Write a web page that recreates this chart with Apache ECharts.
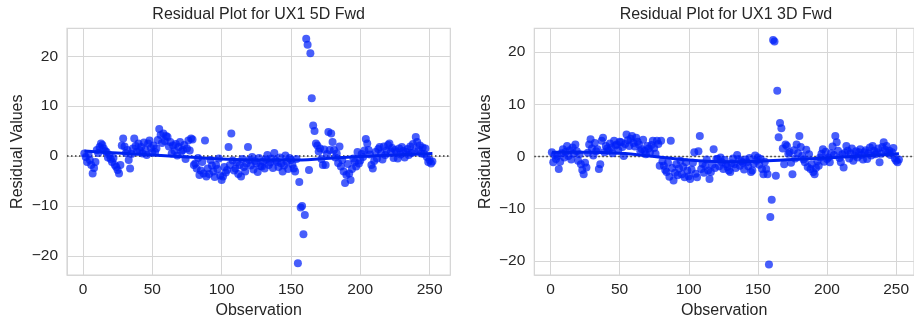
<!DOCTYPE html>
<html><head><meta charset="utf-8">
<script src="https://cdn.jsdelivr.net/npm/echarts@6/dist/echarts.min.js"></script>
<style>html,body{margin:0;padding:0;background:#fff}#c{width:914px;height:324px}</style>
</head><body><div id="c"></div>
<script>
const titles = ['Residual Plot for UX1 5D Fwd', 'Residual Plot for UX1 3D Fwd'];
const xTicks = [0, 50, 100, 150, 200, 250];
const yTicks = [-20, -10, 0, 10, 20];
const resid5D = [
 0.5,-0.2,-1.2,0.3,-0.8,-1.8,-3.5,-2.4,-1.2,1.2,
 0.6,1.8,2.5,2.2,1.5,1.0,0.8,-0.3,0.2,-0.6,
 -1.2,-0.4,-1.8,-2.2,-2.8,-3.5,-1.8,2.1,3.5,1.9,
 0.6,1.2,-0.8,-2.5,0.4,1.5,3.5,2.0,0.9,2.5,
 1.1,1.8,0.5,2.7,1.2,0.2,2.5,3.1,1.6,0.7,
 2.1,0.8,1.5,3.2,5.4,4.2,2.6,4.5,3.0,4.0,
 3.8,1.9,2.8,0.5,2.1,1.0,2.4,0.1,1.8,2.8,
 0.9,1.2,2.2,-0.6,1.5,3.1,1.1,3.5,3.3,-1.8,
 -1.5,-2.5,-0.4,-3.8,-2.9,-1.2,-3.5,3.1,-4.1,-2.5,
 -3.6,-0.8,-1.9,-3.1,-4.2,-1.8,-2.6,-0.5,-3.9,-4.8,
 -4.1,-2.2,-3.3,-2.8,1.8,-1.8,4.5,-0.9,-2.9,-2.5,
 -1.3,-3.6,-1.8,-4.1,-0.6,-2.2,-3.1,-1.5,1.8,-0.8,
 -1.9,-0.2,-2.7,-1.0,-1.5,-3.2,-0.4,-2.0,-2.1,-1.1,
 -2.5,-0.7,0.2,-1.8,-1.3,-0.5,-2.4,0.6,-0.9,-1.2,
 -2.2,-0.3,-1.5,-3.1,-1.9,0.1,-1.1,-2.6,-0.4,-0.8,
 -1.7,-2.5,-3.1,-0.6,-21.5,-5.2,-10.3,-10.0,-15.7,-11.8,
 23.5,22.3,-2.8,20.6,11.6,6.1,5.0,2.5,2.1,0.9,
 1.5,-0.6,-1.8,1.3,-1.8,0.4,4.8,1.2,4.5,2.8,
 1.2,-0.3,0.5,-1.4,1.9,-2.1,-0.8,-3.1,-5.4,-3.8,
 -1.6,-3.5,-4.8,-2.6,-0.5,-1.2,-2.1,0.8,-1.5,-0.9,
 0.4,-0.2,1.1,3.4,2.5,1.2,0.3,-1.8,-2.5,-1.0,
 0.8,-0.5,1.4,1.8,0.5,-0.7,1.9,0.2,1.1,2.2,
 2.5,0.9,1.6,-0.4,1.2,0.8,-0.5,1.5,0.3,1.8,
 1.0,-0.3,0.8,1.4,0.2,1.9,0.6,2.4,0.9,3.8,
 2.8,1.3,2.1,0.5,1.7,0.4,1.5,-0.2,-1.2,-0.8,
 -1.5,-1.1
];
const resid3D = [
 0.8,-1.1,0.3,-0.5,0.1,-2.4,-1.0,0.6,1.4,-0.2,
 0.9,2.0,0.1,1.2,-0.6,1.7,0.5,2.3,1.0,-0.8,
 0.4,-1.5,-2.6,-3.4,-1.2,-2.1,0.7,2.3,3.3,1.5,
 0.2,2.6,1.0,1.4,-2.4,-1.5,3.0,3.6,0.8,2.0,
 1.5,1.1,2.5,1.7,0.6,3.0,2.1,2.3,1.2,2.8,
 2.7,1.8,0.1,2.4,4.2,3.1,2.0,3.4,3.9,2.6,
 1.9,3.6,2.8,2.3,1.0,1.4,3.2,1.1,0.4,2.0,
 1.5,0.8,2.2,3.0,1.6,0.5,3.0,2.4,-1.8,3.0,
 -0.9,-1.8,-2.6,-3.0,-1.2,-3.9,3.0,-2.2,-4.6,-3.1,
 -1.5,-3.6,-2.3,-0.8,-3.4,-2.0,-4.0,-1.1,-2.7,-3.8,
 -4.3,-2.5,-1.2,0.8,-3.3,-4.0,1.0,3.9,-2.4,-1.4,
 -3.1,-1.8,-0.6,-2.7,-4.3,-3.0,-1.6,1.4,-2.2,-0.5,
 -0.5,-1.9,-0.2,-1.1,-2.4,-0.7,-1.5,-2.0,-2.7,-3.0,
 -1.3,-0.4,-1.5,-2.2,0.3,-0.5,-1.8,-0.9,-1.2,-2.5,
 -0.6,-1.1,-1.9,-0.3,-3.0,-2.7,-1.4,0.2,-0.8,-0.2,
 -1.6,-0.5,-2.4,-3.4,-1.0,-2.4,-3.4,-20.7,-11.6,-8.3,
 22.3,22.0,-3.7,12.6,3.7,6.4,5.4,1.5,-1.5,2.3,
 2.0,0.5,0.8,-1.2,-3.4,1.2,-0.4,2.3,0.6,3.9,
 1.8,0.1,-0.6,-1.1,1.3,-2.0,0.4,-2.4,-1.5,-3.0,
 -3.4,-2.2,-0.9,-1.8,-0.2,0.5,1.4,-1.0,0.9,-0.5,
 -0.2,-1.1,0.6,1.9,0.3,3.9,2.7,1.1,-0.3,-1.1,
 0.4,-2.1,0.7,2.0,1.1,-0.4,0.6,1.5,-0.8,0.2,
 1.0,-0.2,0.8,1.4,0.3,-0.6,0.8,1.2,-0.5,0.6,
 1.7,0.2,2.0,1.1,0.4,0.8,1.5,-1.1,0.5,1.8,
 2.7,1.3,2.0,0.7,1.1,0.3,0.8,1.6,-0.4,-0.8,
 -1.1,-0.6
];
const lowessX = [1, 25, 50, 75, 100, 125, 150, 175, 200, 225, 252];
const lowess5D = [1.0, 0.6, 0.2, -0.2, -0.6, -0.8, -0.8, -0.5, -0.1, 0.2, 0.5];
const lowess3D = [0.8, 0.8, 0.6, 0.0, -0.7, -1.0, -0.9, -0.6, -0.3, 0.1, 0.5];

const FONT = "'Liberation Sans', Arial, Helvetica, sans-serif";
const TXT = '#262626';
const GRIDC = '#d6d6d6';
const DOT = 'rgba(0,32,250,0.9)';
const LINE = 'rgb(0,34,240)';

const panels = [
  {resid: resid5D, lowess: lowess5D, left: 67, xMin: -11.5, xMax: 264.9, yMin: -23.87, yMax: 25.6},
  {resid: resid3D, lowess: lowess3D, left: 534.3, xMin: -11.7, xMax: 262.9, yMin: -22.73, yMax: 24.55}
];
const near = (v, arr) => arr.some(t => Math.abs(v - t) < 1e-6);

const option = {
  animation: false,
  backgroundColor: '#fff',
  title: panels.map((p, i) => ({
    text: titles[i], left: p.left + 191.6, top: 7, textAlign: 'center', padding: 0,
    textStyle: {fontFamily: FONT, fontSize: 16, fontWeight: 'normal', color: TXT}
  })),
  grid: panels.map(p => ({
    left: p.left, top: 28.3, width: 383.3, height: 249.4,
    show: true, borderColor: GRIDC, borderWidth: 1.2, backgroundColor: 'transparent'
  })),
  xAxis: panels.map((p, i) => ({
    type: 'value', gridIndex: i, min: p.xMin, max: p.xMax,
    minInterval: 50, maxInterval: 50, splitNumber: 5,
    axisLine: {show: false}, axisTick: {show: false},
    splitLine: {show: true, lineStyle: {color: GRIDC, width: 1}},
    axisLabel: {showMinLabel: false, showMaxLabel: false, margin: 7,
      formatter: v => near(v, xTicks) ? String(Math.round(v)) : '',
      color: TXT, fontSize: 15.5, fontFamily: FONT},
    name: 'Observation', nameLocation: 'middle', nameGap: 27,
    nameTextStyle: {color: TXT, fontSize: 16, fontFamily: FONT}
  })),
  yAxis: panels.map((p, i) => ({
    type: 'value', gridIndex: i, min: p.yMin, max: p.yMax,
    minInterval: 10, maxInterval: 10, splitNumber: 5,
    axisLine: {show: false}, axisTick: {show: false},
    splitLine: {show: true, lineStyle: {color: GRIDC, width: 1}},
    axisLabel: {showMinLabel: false, showMaxLabel: false, margin: 9,
      formatter: v => near(v, yTicks) ? String(Math.round(v)).replace('-', '\u2212') : '',
      color: TXT, fontSize: 15.5, fontFamily: FONT},
    name: 'Residual Values', nameLocation: 'middle', nameGap: 41,
    nameTextStyle: {color: TXT, fontSize: 16, fontFamily: FONT}
  })),
  series: []
};

panels.forEach((p, i) => {
  option.series.push({
    type: 'line', xAxisIndex: i, yAxisIndex: i, z: 1, silent: true,
    showSymbol: false, symbol: 'none',
    data: [[p.xMin, 0], [p.xMax, 0]],
    lineStyle: {color: '#333333', width: 1.6, type: [1.5, 2.5]}
  });
  option.series.push({
    type: 'scatter', xAxisIndex: i, yAxisIndex: i, z: 2,
    symbolSize: 8,
    itemStyle: {color: DOT},
    data: p.resid.map((v, k) => [k + 1, v])
  });
  option.series.push({
    type: 'line', xAxisIndex: i, yAxisIndex: i, z: 3, smooth: 0.4,
    showSymbol: false, symbol: 'none',
    data: lowessX.map((x, k) => [x, p.lowess[k]]),
    lineStyle: {color: LINE, width: 3}
  });
});

const chart = echarts.init(document.getElementById('c'), null, {renderer: 'canvas'});
chart.setOption(option);
</script>
</body></html>
